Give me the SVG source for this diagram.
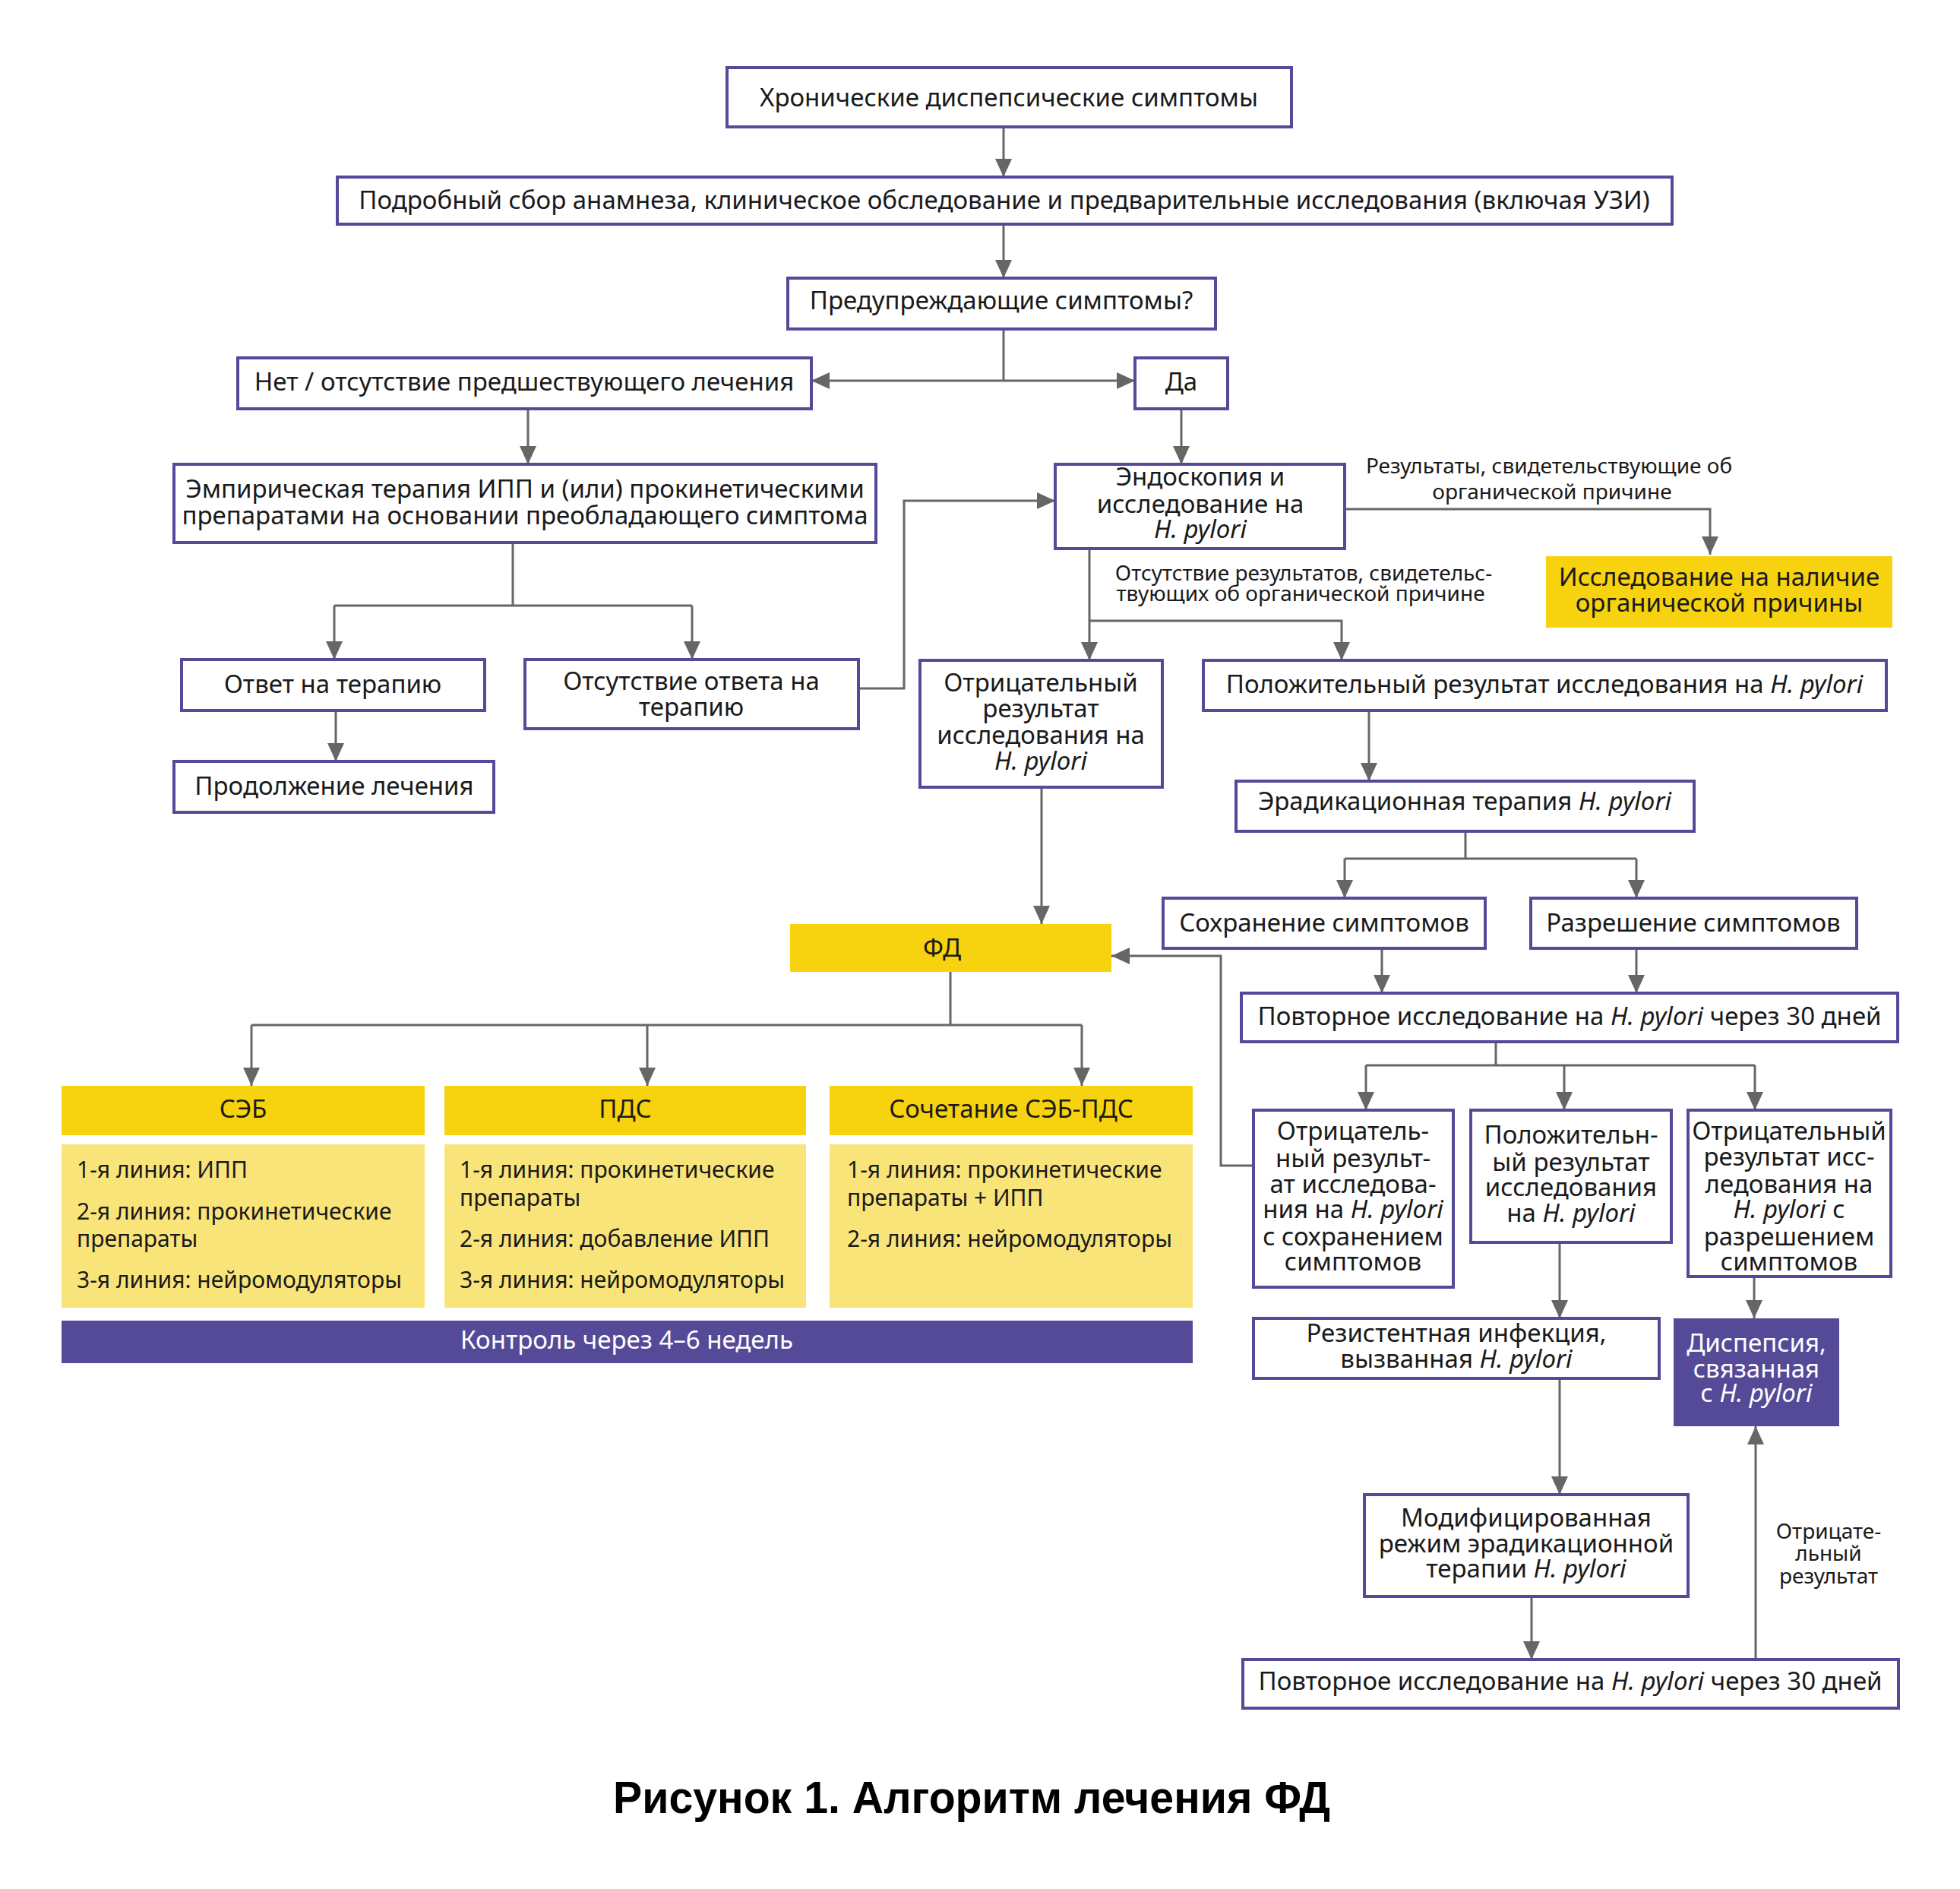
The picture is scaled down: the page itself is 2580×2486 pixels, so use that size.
<svg xmlns="http://www.w3.org/2000/svg" width="2580" height="2486" viewBox="0 0 2580 2486">
<style>
.b{fill:#fff;stroke:#554a99;stroke-width:4}
.y{fill:#f7d30f}
.ly{fill:#f9e47a}
.p{fill:#554a98}
text{font-family:"Noto Sans","Open Sans","DejaVu Sans",sans-serif;font-size:33px;fill:#1a1a1a}
.c{text-anchor:middle}
.s{font-size:28px}
.m{font-size:30px}
.w{fill:#fff}
.i{font-style:italic}
.t{font-family:"Liberation Sans","Noto Sans",sans-serif;font-weight:bold;font-size:60px;fill:#000}
.k path{fill:none;stroke:#666;stroke-width:3}
.k .a{marker-end:url(#ar)}
</style>
<defs>
<marker id="ar" markerUnits="userSpaceOnUse" markerWidth="24" markerHeight="22" refX="24" refY="11" orient="auto">
<path d="M0,0 L24,11 L0,22 z" fill="#666"/>
</marker>
</defs>
<rect width="2580" height="2486" fill="#fff"/>

<g class="k" id="connectors">
<path class="a" d="M1321 167 V233"/>
<path class="a" d="M1321 295 V366"/>
<path d="M1321 433 V501"/>
<path class="a" d="M1321 501 H1068"/>
<path class="a" d="M1321 501 H1494"/>
<path class="a" d="M695 538 V611"/>
<path class="a" d="M1555 538 V611"/>
<path d="M675 714 V797 M440 797 H911"/>
<path class="a" d="M440 797 V868"/>
<path class="a" d="M911 797 V868"/>
<path class="a" d="M442 935 V1002"/>
<path class="a" d="M1130 906 H1190 V659 H1389"/>
<path class="a" d="M1770 670 H2251 V730"/>
<path class="a" d="M1434 722 V869"/>
<path class="a" d="M1434 817 H1766 V869"/>
<path class="a" d="M1371 1036 V1216"/>
<path class="a" d="M1802 935 V1028"/>
<path d="M1929 1094 V1130 M1770 1130 H2154"/>
<path class="a" d="M1770 1130 V1182"/>
<path class="a" d="M2154 1130 V1182"/>
<path class="a" d="M1819 1248 V1307"/>
<path class="a" d="M2154 1248 V1307"/>
<path d="M1969 1371 V1402 M1798 1402 H2310"/>
<path class="a" d="M1798 1402 V1461"/>
<path class="a" d="M2059 1402 V1461"/>
<path class="a" d="M2310 1402 V1461"/>
<path class="a" d="M1650 1534 H1607 V1258 H1463"/>
<path d="M1251 1279 V1349 M331 1349 H1424"/>
<path class="a" d="M331 1349 V1429"/>
<path class="a" d="M852 1349 V1429"/>
<path class="a" d="M1424 1349 V1429"/>
<path class="a" d="M2053 1635 V1735"/>
<path class="a" d="M2309 1680 V1735"/>
<path class="a" d="M2053 1814 V1967"/>
<path class="a" d="M2016 2101 V2184"/>
<path class="a" d="M2311 2184 V1877"/>
</g>

<g id="n1"><rect class="b" x="957" y="89" width="743" height="78"/><text class="c" x="1328" y="140">Хронические диспепсические симптомы</text></g>
<g id="n2"><rect class="b" x="444" y="233" width="1757" height="62"/><text class="c" x="1322" y="275">Подробный сбор анамнеза, клиническое обследование и предварительные исследования (включая УЗИ)</text></g>
<g id="n3"><rect class="b" x="1037" y="366" width="563" height="67"/><text class="c" x="1318" y="407">Предупреждающие симптомы?</text></g>
<g id="n4"><rect class="b" x="313" y="471" width="755" height="67"/><text class="c" x="690" y="514">Нет / отсутствие предшествующего лечения</text></g>
<g id="n5"><rect class="b" x="1494" y="471" width="122" height="67"/><text class="c" x="1555" y="514">Да</text></g>
<g id="n6"><rect class="b" x="229" y="611" width="924" height="103"/><text class="c" x="691" y="655">Эмпирическая терапия ИПП и (или) прокинетическими</text><text class="c" x="691" y="690">препаратами на основании преобладающего симптома</text></g>
<g id="n7"><rect class="b" x="1389" y="611" width="381" height="111"/><text class="c" x="1580" y="639">Эндоскопия и</text><text class="c" x="1580" y="675">исследование на</text><text class="c i" x="1580" y="708">H. pylori</text></g>
<g id="l1"><text class="c s" x="2039" y="623">Результаты, свидетельствующие об</text><text class="c s" x="2043" y="657">органической причине</text></g>
<g id="n8"><rect class="y" x="2035" y="732" width="456" height="94"/><text class="c" x="2263" y="771">Исследование на наличие</text><text class="c" x="2263" y="805">органической причины</text></g>
<g id="n9"><rect class="b" x="239" y="868" width="399" height="67"/><text class="c" x="438" y="912">Ответ на терапию</text></g>
<g id="n10"><rect class="b" x="691" y="868" width="439" height="91"/><text class="c" x="910" y="908">Отсутствие ответа на</text><text class="c" x="910" y="942">терапию</text></g>
<g id="n11"><rect class="b" x="229" y="1002" width="421" height="67"/><text class="c" x="440" y="1046">Продолжение лечения</text></g>
<g id="l2"><text class="c s" x="1716" y="764">Отсутствие результатов, свидетельс-</text><text class="c s" x="1712" y="791">твующих об органической причине</text></g>
<g id="n12"><rect class="b" x="1211" y="869" width="319" height="167"/><text class="c" x="1370" y="910">Отрицательный</text><text class="c" x="1370" y="944">результат</text><text class="c" x="1370" y="979">исследования на</text><text class="c i" x="1370" y="1013">H. pylori</text></g>
<g id="n13"><rect class="b" x="1584" y="869" width="899" height="66"/><text class="c" x="2033" y="912">Положительный результат исследования на <tspan class="i">H. pylori</tspan></text></g>
<g id="n14"><rect class="b" x="1627" y="1028" width="603" height="66"/><text class="c" x="1928" y="1066">Эрадикационная терапия <tspan class="i">H. pylori</tspan></text></g>
<g id="n15"><rect class="b" x="1531" y="1182" width="424" height="66"/><text class="c" x="1743" y="1226">Сохранение симптомов</text></g>
<g id="n16"><rect class="b" x="2015" y="1182" width="429" height="66"/><text class="c" x="2229" y="1226">Разрешение симптомов</text></g>
<g id="n17"><rect class="y" x="1040" y="1216" width="423" height="63"/><text class="c" x="1240" y="1259">ФД</text></g>
<g id="n18"><rect class="b" x="1634" y="1307" width="864" height="64"/><text class="c" x="2066" y="1349">Повторное исследование на <tspan class="i">H. pylori</tspan> через 30 дней</text></g>
<g id="n19"><rect class="b" x="1650" y="1461" width="263" height="233"/><text class="c" x="1781" y="1500">Отрицатель-</text><text class="c" x="1781" y="1536">ный результ-</text><text class="c" x="1781" y="1570">ат исследова-</text><text class="c" x="1781" y="1603">ния на <tspan class="i">H. pylori</tspan></text><text class="c" x="1781" y="1639">с сохранением</text><text class="c" x="1781" y="1672">симптомов</text></g>
<g id="n20"><rect class="b" x="1936" y="1461" width="264" height="174"/><text class="c" x="2068" y="1505">Положительн-</text><text class="c" x="2068" y="1541">ый результат</text><text class="c" x="2068" y="1574">исследования</text><text class="c" x="2068" y="1608">на <tspan class="i">H. pylori</tspan></text></g>
<g id="n21"><rect class="b" x="2222" y="1461" width="267" height="219"/><text class="c" x="2355" y="1500">Отрицательный</text><text class="c" x="2355" y="1534">результат исс-</text><text class="c" x="2355" y="1570">ледования на</text><text class="c" x="2355" y="1603"><tspan class="i">H. pylori</tspan> с</text><text class="c" x="2355" y="1639">разрешением</text><text class="c" x="2355" y="1672">симптомов</text></g>
<g id="n22"><rect class="b" x="1650" y="1735" width="534" height="79"/><text class="c" x="1917" y="1766">Резистентная инфекция,</text><text class="c" x="1917" y="1800">вызванная <tspan class="i">H. pylori</tspan></text></g>
<g id="n23"><rect class="p" x="2203" y="1735" width="218" height="142"/><text class="c w" x="2312" y="1779">Диспепсия,</text><text class="c w" x="2312" y="1813">связанная</text><text class="c w" x="2312" y="1845">с <tspan class="i">H. pylori</tspan></text></g>
<g id="n24"><rect class="b" x="1796" y="1967" width="426" height="134"/><text class="c" x="2009" y="2009">Модифицированная</text><text class="c" x="2009" y="2043">режим эрадикационной</text><text class="c" x="2009" y="2076">терапии <tspan class="i">H. pylori</tspan></text></g>
<g id="n25"><rect class="b" x="1636" y="2184" width="863" height="64"/><text class="c" x="2067" y="2224">Повторное исследование на <tspan class="i">H. pylori</tspan> через 30 дней</text></g>
<g id="l3"><text class="c s" x="2407" y="2025">Отрицате-</text><text class="c s" x="2407" y="2054">льный</text><text class="c s" x="2407" y="2084">результат</text></g>

<g id="n26"><rect class="y" x="81" y="1429" width="478" height="65"/><text class="c" x="320" y="1471">СЭБ</text>
<rect class="ly" x="81" y="1506" width="478" height="215"/>
<text class="m" x="101" y="1550">1-я линия: ИПП</text><text class="m" x="101" y="1605">2-я линия: прокинетические</text><text class="m" x="101" y="1641">препараты</text><text class="m" x="101" y="1695">3-я линия: нейромодуляторы</text></g>
<g id="n27"><rect class="y" x="585" y="1429" width="476" height="65"/><text class="c" x="823" y="1471">ПДС</text>
<rect class="ly" x="585" y="1506" width="476" height="215"/>
<text class="m" x="605" y="1550">1-я линия: прокинетические</text><text class="m" x="605" y="1587">препараты</text><text class="m" x="605" y="1641">2-я линия: добавление ИПП</text><text class="m" x="605" y="1695">3-я линия: нейромодуляторы</text></g>
<g id="n28"><rect class="y" x="1092" y="1429" width="478" height="65"/><text class="c" x="1331" y="1471">Сочетание СЭБ-ПДС</text>
<rect class="ly" x="1092" y="1506" width="478" height="215"/>
<text class="m" x="1115" y="1550">1-я линия: прокинетические</text><text class="m" x="1115" y="1587">препараты + ИПП</text><text class="m" x="1115" y="1641">2-я линия: нейромодуляторы</text></g>
<g id="n29"><rect class="p" x="81" y="1738" width="1489" height="56"/><text class="c w" x="825" y="1775">Контроль через 4–6 недель</text></g>

<text class="t c" x="1279" y="2386" textLength="944" lengthAdjust="spacingAndGlyphs">Рисунок 1. Алгоритм лечения ФД</text>
</svg>
